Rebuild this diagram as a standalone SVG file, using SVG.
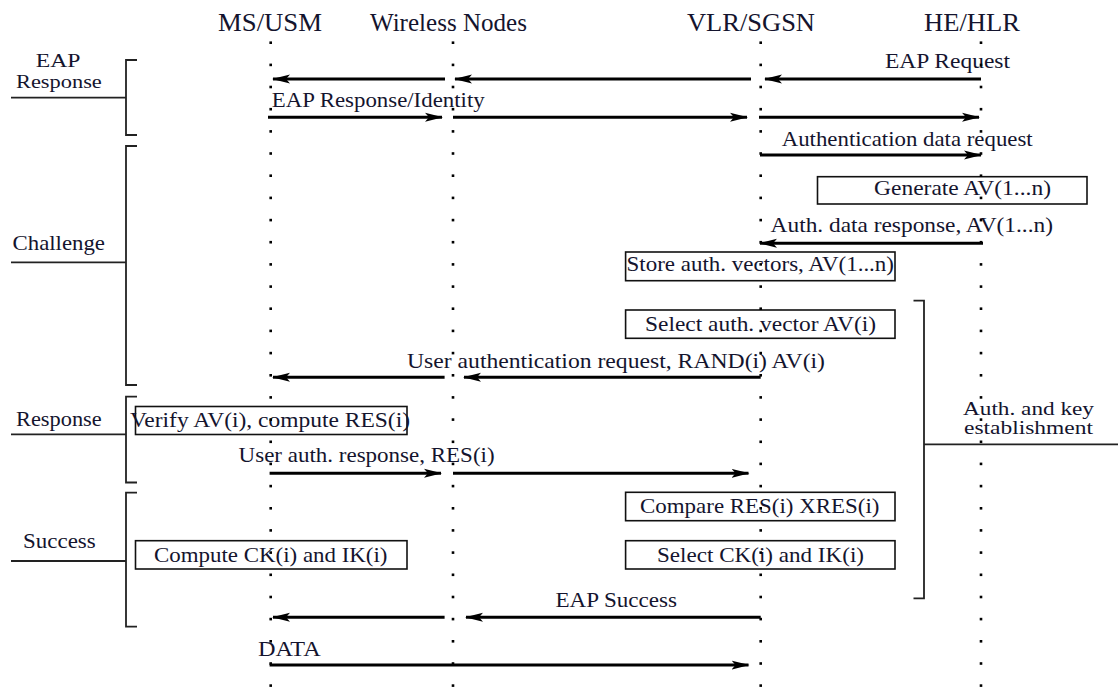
<svg xmlns="http://www.w3.org/2000/svg" width="1118" height="690" viewBox="0 0 1118 690">
<style>
text{font-family:"Liberation Serif","Times New Roman",serif;fill:#14142e;font-size:21px}
.hd{font-size:25px}
.sm{font-size:18px}
.md{font-size:19px}
.box{fill:none;stroke:#111;stroke-width:1.6}
.br{fill:none;stroke:#222;stroke-width:1.8}
.ar{fill:none;stroke:#000;stroke-width:3}
.dot{fill:#000}
</style>
<defs>
<marker id="ah" markerUnits="userSpaceOnUse" markerWidth="18" markerHeight="10" viewBox="0 0 18 10" refX="17" refY="5" orient="auto">
<path d="M0,0.5 L18,5 L0,9.5 L4,5 z" fill="#000"/>
</marker>
<g id="col">
<rect class="dot" x="-1.3" y="41.4" width="2.6" height="2.6"/>
<rect class="dot" x="-1.3" y="63.6" width="2.6" height="2.6"/>
<rect class="dot" x="-1.3" y="85.7" width="2.6" height="2.6"/>
<rect class="dot" x="-1.3" y="107.9" width="2.6" height="2.6"/>
<rect class="dot" x="-1.3" y="130.1" width="2.6" height="2.6"/>
<rect class="dot" x="-1.3" y="152.2" width="2.6" height="2.6"/>
<rect class="dot" x="-1.3" y="174.4" width="2.6" height="2.6"/>
<rect class="dot" x="-1.3" y="196.6" width="2.6" height="2.6"/>
<rect class="dot" x="-1.3" y="218.8" width="2.6" height="2.6"/>
<rect class="dot" x="-1.3" y="240.9" width="2.6" height="2.6"/>
<rect class="dot" x="-1.3" y="263.1" width="2.6" height="2.6"/>
<rect class="dot" x="-1.3" y="285.3" width="2.6" height="2.6"/>
<rect class="dot" x="-1.3" y="307.4" width="2.6" height="2.6"/>
<rect class="dot" x="-1.3" y="329.6" width="2.6" height="2.6"/>
<rect class="dot" x="-1.3" y="351.8" width="2.6" height="2.6"/>
<rect class="dot" x="-1.3" y="374.0" width="2.6" height="2.6"/>
<rect class="dot" x="-1.3" y="396.1" width="2.6" height="2.6"/>
<rect class="dot" x="-1.3" y="418.3" width="2.6" height="2.6"/>
<rect class="dot" x="-1.3" y="440.5" width="2.6" height="2.6"/>
<rect class="dot" x="-1.3" y="462.6" width="2.6" height="2.6"/>
<rect class="dot" x="-1.3" y="484.8" width="2.6" height="2.6"/>
<rect class="dot" x="-1.3" y="507.0" width="2.6" height="2.6"/>
<rect class="dot" x="-1.3" y="529.1" width="2.6" height="2.6"/>
<rect class="dot" x="-1.3" y="551.3" width="2.6" height="2.6"/>
<rect class="dot" x="-1.3" y="573.5" width="2.6" height="2.6"/>
<rect class="dot" x="-1.3" y="595.7" width="2.6" height="2.6"/>
<rect class="dot" x="-1.3" y="617.8" width="2.6" height="2.6"/>
<rect class="dot" x="-1.3" y="640.0" width="2.6" height="2.6"/>
<rect class="dot" x="-1.3" y="662.2" width="2.6" height="2.6"/>
<rect class="dot" x="-1.3" y="684.3" width="2.6" height="2.6"/>
</g>
</defs>
<g id="headers">
<text class="hd" x="218" y="31" textLength="104" lengthAdjust="spacingAndGlyphs">MS/USM</text>
<text class="hd" x="370" y="31" textLength="157" lengthAdjust="spacingAndGlyphs">Wireless Nodes</text>
<text class="hd" x="687" y="31" textLength="128" lengthAdjust="spacingAndGlyphs">VLR/SGSN</text>
<text class="hd" x="924" y="31" textLength="96" lengthAdjust="spacingAndGlyphs">HE/HLR</text>
</g>
<g id="phases">
<g id="phase-eap">
<path class="br" d="M137,60H126V135H137M11,97.7H126"/>
<text class="sm" x="35.7" y="67" textLength="44.7" lengthAdjust="spacingAndGlyphs">EAP</text>
<text class="md" x="16" y="88" textLength="85.8" lengthAdjust="spacingAndGlyphs">Response</text>
</g>
<g id="phase-challenge">
<path class="br" d="M137,146H126V385H137M11,262.3H126"/>
<text x="12.5" y="250" textLength="92.5" lengthAdjust="spacingAndGlyphs">Challenge</text>
</g>
<g id="phase-response">
<path class="br" d="M137,396.7H126V482.5H137M11,434.3H126"/>
<text x="16" y="425.5" textLength="85.7" lengthAdjust="spacingAndGlyphs">Response</text>
</g>
<g id="phase-success">
<path class="br" d="M137,492.7H126V626.7H137M11,561H126"/>
<text x="23" y="548.3" textLength="72.7" lengthAdjust="spacingAndGlyphs">Success</text>
</g>
<g id="phase-auth">
<path class="br" d="M913.5,300.7H924V598.3H913.5M924,444.3H1118"/>
<text class="sm" x="963" y="414.5" textLength="131" lengthAdjust="spacingAndGlyphs">Auth. and key</text>
<text class="sm" x="964" y="434.3" textLength="129" lengthAdjust="spacingAndGlyphs">establishment</text>
</g>
</g>
<g id="boxes">
<g id="box-generate"><rect class="box" x="817.5" y="176.7" width="269.5" height="27.3"/><text x="874" y="195" textLength="177" lengthAdjust="spacingAndGlyphs">Generate AV(1...n)</text></g>
<g id="box-store"><rect class="box" x="625.6" y="252" width="269.4" height="28.7"/><text x="626.5" y="271" textLength="267.5" lengthAdjust="spacingAndGlyphs">Store auth. vectors, AV(1...n)</text></g>
<g id="box-select-av"><rect class="box" x="625.6" y="310" width="269.4" height="28.3"/><text x="645" y="330.5" textLength="231" lengthAdjust="spacingAndGlyphs">Select auth. vector AV(i)</text></g>
<g id="box-verify"><rect class="box" x="135.5" y="406.5" width="271.5" height="28"/><text x="130" y="426.5" textLength="280" lengthAdjust="spacingAndGlyphs">Verify AV(i), compute RES(i)</text></g>
<g id="box-compare"><rect class="box" x="625.6" y="492.3" width="269.4" height="28.4"/><text x="640" y="512.5" textLength="239.5" lengthAdjust="spacingAndGlyphs">Compare RES(i) XRES(i)</text></g>
<g id="box-compute-ck"><rect class="box" x="135.5" y="540.7" width="271.5" height="28.3"/><text x="154" y="562" textLength="233.5" lengthAdjust="spacingAndGlyphs">Compute CK(i) and IK(i)</text></g>
<g id="box-select-ck"><rect class="box" x="625.6" y="540.7" width="269.4" height="28.3"/><text x="657" y="561.5" textLength="207" lengthAdjust="spacingAndGlyphs">Select CK(i) and IK(i)</text></g>
</g>
<g id="connectors">
<path class="ar" marker-end="url(#ah)" d="M981,79H765"/>
<path class="ar" marker-end="url(#ah)" d="M751,79H455"/>
<path class="ar" marker-end="url(#ah)" d="M445,79H273"/>
<path class="ar" marker-end="url(#ah)" d="M268,117.3H442"/>
<path class="ar" marker-end="url(#ah)" d="M453,117.3H747"/>
<path class="ar" marker-end="url(#ah)" d="M759,117.3H979"/>
<path class="ar" marker-end="url(#ah)" d="M760,155H981"/>
<path class="ar" marker-end="url(#ah)" d="M983,243.3H760"/>
<path class="ar" marker-end="url(#ah)" d="M760.7,377.3H464"/>
<path class="ar" marker-end="url(#ah)" d="M444.6,377.3H273"/>
<path class="ar" marker-end="url(#ah)" d="M269.6,473.3H441"/>
<path class="ar" marker-end="url(#ah)" d="M453,473.3H748.5"/>
<path class="ar" marker-end="url(#ah)" d="M760.7,617.3H466"/>
<path class="ar" marker-end="url(#ah)" d="M444.6,617.3H273"/>
<path class="ar" marker-end="url(#ah)" d="M269.6,665H748.5"/>
<text x="885" y="68" textLength="125" lengthAdjust="spacingAndGlyphs">EAP Request</text>
<text x="271.7" y="107" textLength="213" lengthAdjust="spacingAndGlyphs">EAP Response/Identity</text>
<text x="781.7" y="146" textLength="251" lengthAdjust="spacingAndGlyphs">Authentication data request</text>
<text x="770.6" y="232" textLength="282.4" lengthAdjust="spacingAndGlyphs">Auth. data response, AV(1...n)</text>
<text x="407" y="368" textLength="418" lengthAdjust="spacingAndGlyphs">User authentication request, RAND(i) AV(i)</text>
<text x="238.6" y="462" textLength="256" lengthAdjust="spacingAndGlyphs">User auth. response, RES(i)</text>
<text x="555.5" y="607" textLength="121.5" lengthAdjust="spacingAndGlyphs">EAP Success</text>
<text x="258" y="656" textLength="62.7" lengthAdjust="spacingAndGlyphs">DATA</text>
</g>
<g id="lifelines">
<use id="lifeline-ms" href="#col" x="270.7"/>
<use id="lifeline-wireless" href="#col" x="453"/>
<use id="lifeline-vlr" href="#col" x="760.7"/>
<use id="lifeline-he" href="#col" x="981"/>
</g>
</svg>
